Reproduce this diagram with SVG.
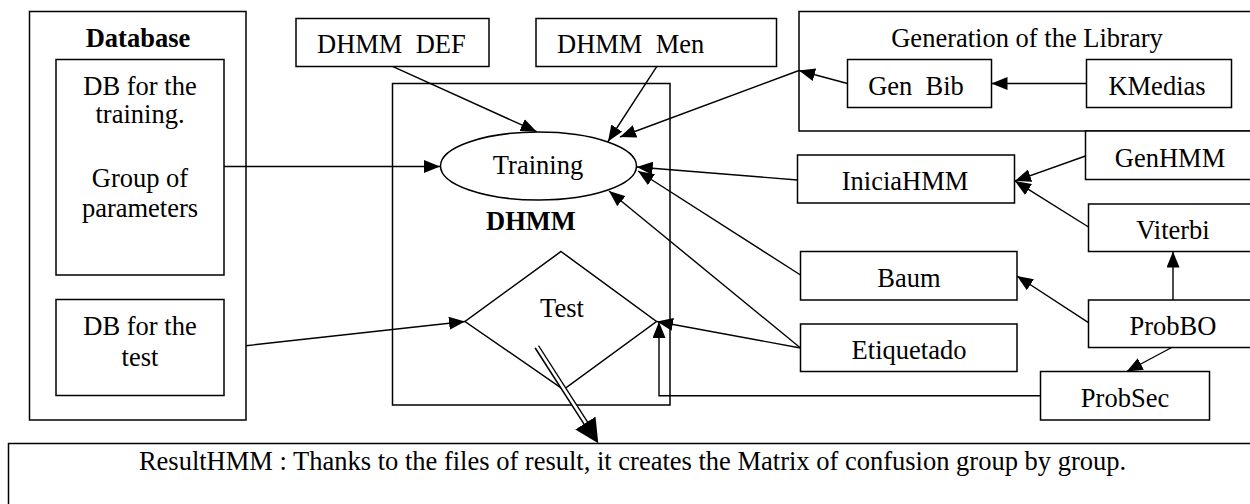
<svg xmlns="http://www.w3.org/2000/svg" width="1250" height="504" viewBox="0 0 1250 504">
<style>
  .box { fill: #ffffff; stroke: #000000; stroke-width: 1.5; }
  .cont { fill: none; stroke: #000000; stroke-width: 1.5; }
  .t { font-family: "Liberation Serif", "Times New Roman", serif; font-size: 26.5px; fill: #000000; }
  .c { text-anchor: middle; }
  .b { font-weight: bold; }
  .ln { fill: none; stroke: #000000; stroke-width: 1.4; }
</style>
<defs>
  <marker id="arr" markerUnits="userSpaceOnUse" markerWidth="16" markerHeight="13" refX="16" refY="6.5" orient="auto">
    <path d="M0,0 L16,6.5 L0,13 z" fill="#000000"/>
  </marker>
  <marker id="big" markerUnits="userSpaceOnUse" markerWidth="24" markerHeight="24" refX="24" refY="12" orient="auto">
    <path d="M0,0 L24,12 L0,24 z" fill="#000000"/>
  </marker>
</defs>

<g id="database">
  <rect class="cont" x="29.5" y="11.5" width="216.5" height="408.5"/>
  <text class="t c b" x="138" y="47">Database</text>
</g>
<g id="db-training">
  <rect class="box" x="56" y="59.5" width="168" height="215.5"/>
  <text class="t c" x="140" y="95">DB for the</text>
  <text class="t c" x="140" y="123">training.</text>
  <text class="t c" x="140" y="187">Group of</text>
  <text class="t c" x="140" y="217">parameters</text>
</g>
<g id="db-test">
  <rect class="box" x="56" y="299.5" width="168" height="96"/>
  <text class="t c" x="140" y="335">DB for the</text>
  <text class="t c" x="140" y="366">test</text>
</g>
<g id="dhmm-def">
  <rect class="box" x="296" y="18.5" width="193" height="48"/>
  <text class="t" x="317" y="53" xml:space="preserve">DHMM  DEF</text>
</g>
<g id="dhmm-men">
  <rect class="box" x="536" y="18.5" width="240.5" height="48"/>
  <text class="t" x="557" y="53" xml:space="preserve">DHMM  Men</text>
</g>
<g id="dhmm">
  <rect class="cont" x="392.5" y="83.5" width="277.5" height="321.5"/>
  <text class="t c b" x="531" y="230">DHMM</text>
</g>
<g id="training">
  <ellipse class="box" cx="538.5" cy="166" rx="98" ry="34"/>
  <text class="t c" x="538" y="174">Training</text>
</g>
<g id="test">
  <polygon class="box" points="561,251.5 656.5,321.5 563.5,389.5 465,321.5"/>
  <text class="t c" x="562" y="317">Test</text>
</g>
<g id="generation">
  <rect class="cont" x="799" y="11.5" width="470" height="119.5"/>
  <text class="t c" x="1027" y="47">Generation of the Library</text>
</g>
<g id="gen-bib">
  <rect class="box" x="847.5" y="59.5" width="144" height="48"/>
  <text class="t c" x="916" y="95" xml:space="preserve">Gen  Bib</text>
</g>
<g id="kmedias">
  <rect class="box" x="1086.5" y="59.5" width="145" height="48"/>
  <text class="t c" x="1157" y="95">KMedias</text>
</g>
<g id="iniciahmm">
  <rect class="box" x="797.5" y="155" width="217" height="48"/>
  <text class="t c" x="905" y="190">IniciaHMM</text>
</g>
<g id="genhmm">
  <rect class="box" x="1085.5" y="131" width="200" height="48.5"/>
  <text class="t c" x="1170" y="167">GenHMM</text>
</g>
<g id="viterbi">
  <rect class="box" x="1088.5" y="204" width="200" height="47.5"/>
  <text class="t c" x="1173" y="238.5">Viterbi</text>
</g>
<g id="baum">
  <rect class="box" x="800.5" y="251.5" width="216.5" height="48.5"/>
  <text class="t c" x="909" y="287">Baum</text>
</g>
<g id="etiquetado">
  <rect class="box" x="800.5" y="324" width="216.5" height="47.5"/>
  <text class="t c" x="909" y="358.5">Etiquetado</text>
</g>
<g id="probbo">
  <rect class="box" x="1088.5" y="300" width="200" height="47.5"/>
  <text class="t c" x="1173" y="335">ProbBO</text>
</g>
<g id="probsec">
  <rect class="box" x="1040.5" y="371.5" width="169" height="48.5"/>
  <text class="t c" x="1125" y="407">ProbSec</text>
</g>
<g id="resulthmm">
  <rect class="box" x="8.5" y="443.5" width="1300" height="100"/>
  <text class="t c" x="632.5" y="470">ResultHMM : Thanks to the files of result, it creates the Matrix of confusion group by group.</text>
</g>

<g id="connectors">
  <line class="ln" x1="224" y1="166.5" x2="440" y2="166.5" marker-end="url(#arr)"/>
  <line class="ln" x1="246" y1="345.7" x2="465" y2="321.5" marker-end="url(#arr)"/>
  <line class="ln" x1="393" y1="66.7" x2="536.7" y2="131.7" marker-end="url(#arr)"/>
  <line class="ln" x1="656.7" y1="66.7" x2="608" y2="141.5" marker-end="url(#arr)"/>
  <line class="ln" x1="1086.5" y1="83.5" x2="991.5" y2="83.5" marker-end="url(#arr)"/>
  <line class="ln" x1="847.5" y1="83.5" x2="799" y2="70.5" marker-end="url(#arr)"/>
  <line class="ln" x1="799" y1="70.5" x2="620" y2="137" marker-end="url(#arr)"/>
  <line class="ln" x1="797.5" y1="180" x2="636.7" y2="167" marker-end="url(#arr)"/>
  <line class="ln" x1="1085.5" y1="156" x2="1015" y2="181" marker-end="url(#arr)"/>
  <line class="ln" x1="1088.5" y1="227" x2="1015" y2="181" marker-end="url(#arr)"/>
  <line class="ln" x1="1173" y1="300" x2="1173" y2="251.5" marker-end="url(#arr)"/>
  <line class="ln" x1="1088.5" y1="322.7" x2="1017" y2="276" marker-end="url(#arr)"/>
  <line class="ln" x1="1171.7" y1="347.5" x2="1126.7" y2="371.5" marker-end="url(#arr)"/>
  <line class="ln" x1="800.5" y1="275" x2="638" y2="171" marker-end="url(#arr)"/>
  <line class="ln" x1="800.5" y1="348" x2="609" y2="191" marker-end="url(#arr)"/>
  <line class="ln" x1="800.5" y1="348" x2="657" y2="321.5" marker-end="url(#arr)"/>
  <polyline class="ln" points="1040.5,395.7 659,395.7 659,322" marker-end="url(#arr)"/>
  <line x1="536.7" y1="346.7" x2="588" y2="426.5" stroke="#000000" stroke-width="5.5"/>
  <line x1="535.5" y1="344.5" x2="589" y2="428" stroke="#ffffff" stroke-width="2.6"/>
  <line x1="536.7" y1="346.7" x2="598.3" y2="443.3" stroke="none" marker-end="url(#big)"/>
</g>
</svg>
